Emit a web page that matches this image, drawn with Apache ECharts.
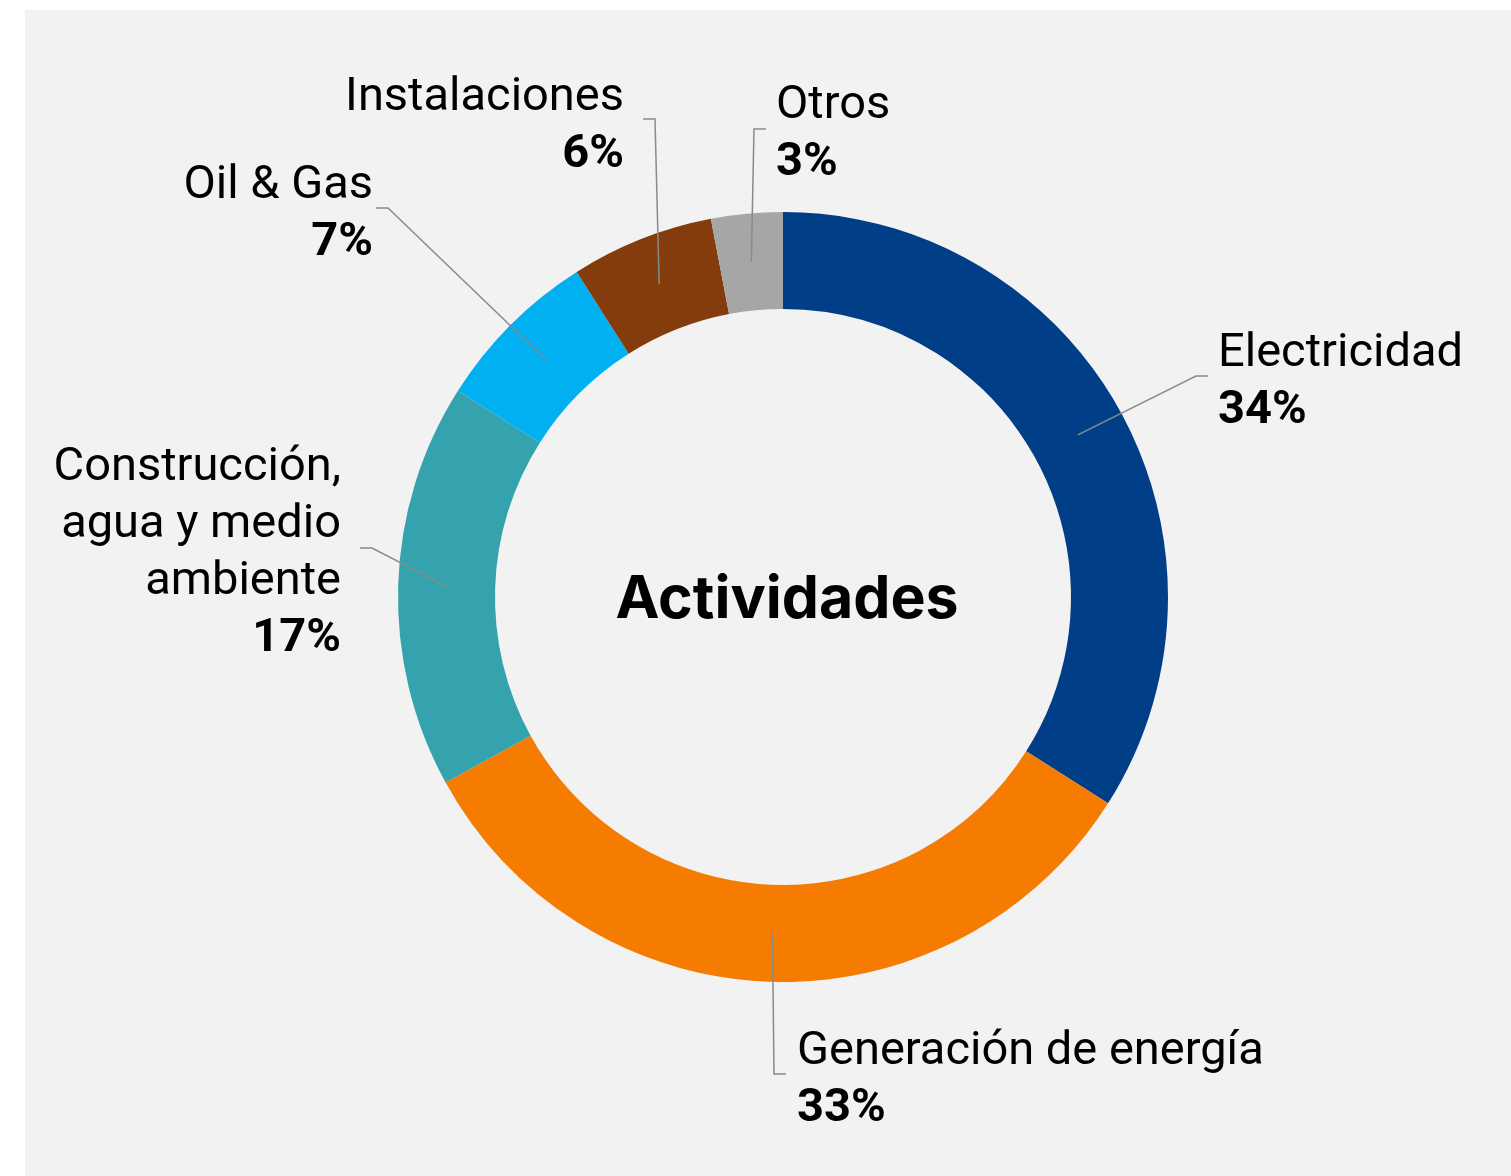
<!DOCTYPE html>
<html><head><meta charset="utf-8">
<script src="https://cdn.jsdelivr.net/npm/echarts@6/dist/echarts.min.js"></script>
<style>
html,body{margin:0;padding:0;background:#fff;}
#bg{position:absolute;left:25px;top:10px;width:1486px;height:1166px;background:#f2f2f2;}
#chart{position:absolute;left:0;top:0;width:1511px;height:1176px;}
</style></head>
<body><div id="bg"></div><div id="chart"></div>
<script>
// ---- data ----
const categories = ['Electricidad', 'Generación de energía', 'Construcción,\nagua y medio\nambiente', 'Oil & Gas', 'Instalaciones', 'Otros'];
const values = [34, 33, 17, 7, 6, 3];
const colors = ['#003f87', '#f57c00', '#35a3ae', '#00b0f0', '#843c0c', '#a6a6a6'];
const centerTitle = 'Actividades';

// ---- layout (label placement only) ----
const CX = 783, CY = 597, R_IN = 288, R_OUT = 385;
// [textX, textY(middle of block), cornerX, cornerY, align]
const labelPos = [
  [1218, 383, 1196, 376, 'left'],
  [797, 1081, 774, 1074, 'left'],
  [341, 554, 372, 548, 'right'],
  [373, 215, 388, 208, 'right'],
  [624, 127, 655, 119, 'right'],
  [776, 135, 754, 129, 'left']
];

const total = values.reduce((a, b) => a + b, 0);
function midPoint(i) {
  let before = 0;
  for (let k = 0; k < i; k++) before += values[k];
  const frac = (before + values[i] / 2) / total;
  const ang = frac * 2 * Math.PI; // clockwise from top
  const r = (R_IN + R_OUT) / 2;
  return [CX + r * Math.sin(ang), CY - r * Math.cos(ang)];
}

const FONT = 'Roboto, "Noto Sans", sans-serif';
const base = { fontSize: 47, fontFamily: FONT, color: '#000', lineHeight: 57 };
const rich = {
  nL: Object.assign({}, base, { align: 'left' }),
  bL: Object.assign({}, base, { fontWeight: 'bold', align: 'left' }),
  nR: Object.assign({}, base, { align: 'right' }),
  bR: Object.assign({}, base, { fontWeight: 'bold', align: 'right' })
};

// leader lines: from the middle of each slice's ring to the label elbow
const leaderLines = labelPos.map((L, i) => ({
  type: 'polyline', silent: true, z: 20,
  shape: { points: [midPoint(i), [L[2], L[3]], [L[2] + (L[4] === 'left' ? 12 : -12), L[3]]] },
  style: { stroke: '#8a8a8a', lineWidth: 1.5, fill: null }
}));

const chart = echarts.init(document.getElementById('chart'), null, { renderer: 'canvas' });
chart.setOption({
  backgroundColor: 'transparent',
  animation: false,
  graphic: [{
    type: 'text', x: 787, y: 600, silent: true, z: 10,
    style: {
      text: centerTitle, fill: '#000',
      font: 'bold 59px Inter, Roboto, sans-serif',
      fontSize: 59, fontWeight: 'bold', fontFamily: 'Inter, Roboto, sans-serif',
      align: 'center', verticalAlign: 'middle',
      textAlign: 'center', textVerticalAlign: 'middle'
    }
  }].concat(leaderLines),
  series: [{
    type: 'pie',
    center: [CX, CY],
    radius: [R_IN, R_OUT],
    startAngle: 90,
    clockwise: true,
    avoidLabelOverlap: false,
    silent: true,
    data: categories.map((c, i) => ({ name: c, value: values[i], itemStyle: { color: colors[i] } })),
    itemStyle: { borderWidth: 0 },
    label: {
      show: true,
      position: 'outside',
      formatter: function (p) {
        const side = labelPos[p.dataIndex][4] === 'left' ? 'L' : 'R';
        const lines = p.name.split('\n').map(s => '{n' + side + '|' + s + '}');
        lines.push('{b' + side + '|' + Math.round(p.percent) + '%}');
        return lines.join('\n');
      },
      rich: rich
    },
    labelLine: { show: false },
    labelLayout: function (params) {
      const L = labelPos[params.dataIndex];
      return { x: L[0], y: L[1], align: L[4], verticalAlign: 'middle' };
    }
  }]
});
</script>
</body></html>
